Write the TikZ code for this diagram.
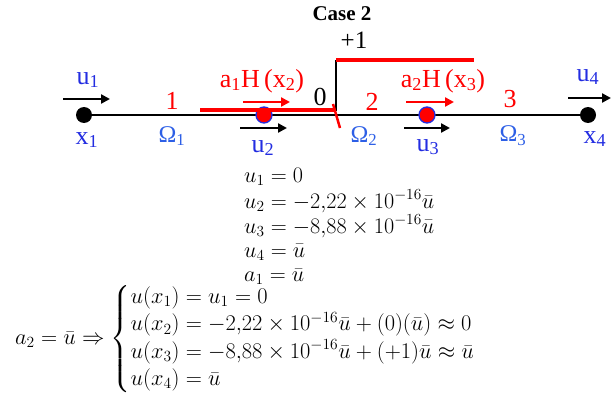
\documentclass[tikz,border=0pt]{standalone}
\usepackage{amsmath}
\usepackage{fontspec}
\setmainfont{Liberation Serif}
\usetikzlibrary{arrows.meta}
\definecolor{lblue}{RGB}{35,45,225}
\definecolor{oblue}{RGB}{45,95,230}
\definecolor{lred}{RGB}{255,0,0}
\tikzset{
  lbl/.style={inner sep=0pt, font=\fontsize{26}{30}\selectfont},
  bluelbl/.style={lbl, text=lblue},
  omegalbl/.style={lbl, text=oblue, font=\fontsize{24}{28}\selectfont},
  redlbl/.style={lbl, text=lred},
  blackdot/.style={circle, fill=black, inner sep=0pt, minimum size=16pt},
  reddot/.style={circle, fill=lred, draw=lblue, line width=1.3pt, inner sep=0pt, minimum size=16pt},
  varrow/.style={line width=2.6pt, -{Triangle[length=9pt,width=9pt]}},
  eqn/.style={inner sep=0pt, anchor=base west, font=\fontsize{20.74}{25}\selectfont},
}
\newcommand{\eqsc}[1]{\scalebox{1.07}{#1}}
\begin{document}
\begin{tikzpicture}[x=1pt,y=-1pt]
\useasboundingbox (0,0) rectangle (611,396);
% title
\node[inner sep=0pt, font=\fontsize{21}{24}\selectfont\bfseries] (title) at (342,14) {Case 2};
\node[inner sep=0pt, font=\fontsize{25}{29}\selectfont] (plus) at (354,40) {+1};
% nodes on the bar
\node[blackdot] (x1) at (84,115) {};
\node[blackdot] (x4) at (588,115) {};
\draw[line width=2.8pt] (x1) -- (x4);
\node[reddot] (n2) at (264,115) {};
\node[reddot] (n3) at (427,115) {};
% step function
\coordinate (s0) at (200,110);
\coordinate (s1) at (334,110);
\coordinate (j0) at (336,111);
\coordinate (j1) at (336,60);
\coordinate (t1) at (474,60);
\coordinate (k0) at (333,104);
\coordinate (k1) at (340,128);
\draw[line width=1.5pt] (j0) -- (j1);
\draw[lred, line width=4pt] (s0) -- (s1);
\draw[lred, line width=4pt] (j1) -- (t1);
\draw[lred, line width=2.5pt] (k0) -- (k1);
% arrows
\coordinate (a1s) at (63,99);  \coordinate (a1e) at (110,99);
\coordinate (a4s) at (568,98); \coordinate (a4e) at (611,98);
\coordinate (a2s) at (240,128); \coordinate (a2e) at (287,128);
\coordinate (a3s) at (404,128); \coordinate (a3e) at (450,128);
\coordinate (r2s) at (243,102); \coordinate (r2e) at (290,102);
\coordinate (r3s) at (406,102); \coordinate (r3e) at (454,102);
\draw[varrow] (a1s) -- (a1e);
\draw[varrow] (a4s) -- (a4e);
\draw[varrow] (a2s) -- (a2e);
\draw[varrow] (a3s) -- (a3e);
\draw[varrow, lred] (r2s) -- (r2e);
\draw[varrow, lred] (r3s) -- (r3e);
% labels
\node[bluelbl] (lu1) at (88,80) {u\textsubscript{1}};
\node[bluelbl] (lu4) at (588,77) {u\textsubscript{4}};
\node[bluelbl] (lu2) at (263,148) {u\textsubscript{2}};
\node[bluelbl] (lu3) at (428,147) {u\textsubscript{3}};
\node[bluelbl] (lx1) at (87,140) {x\textsubscript{1}};
\node[bluelbl] (lx4) at (595,139) {x\textsubscript{4}};
\node[omegalbl] (o1) at (172,136) {Ω\textsubscript{1}};
\node[omegalbl] (o2) at (364,136) {Ω\textsubscript{2}};
\node[omegalbl] (o3) at (513,136) {Ω\textsubscript{3}};
\node[redlbl] (h1) at (262,81) {a\textsubscript{1}H\,(x\textsubscript{2})};
\node[redlbl] (h2) at (443,81) {a\textsubscript{2}H\,(x\textsubscript{3})};
\node[redlbl] (d1) at (172,101) {1};
\node[redlbl] (d2) at (372,102) {2};
\node[redlbl] (d3) at (510,99) {3};
\node[lbl] (d0) at (320,97) {0};
% equations
\node[eqn] (e1) at (244,182) {\eqsc{$u_1 = 0$}};
\node[eqn] (e2) at (244,208) {\eqsc{$u_2 = -2{,}22\times 10^{-16}\bar{u}$}};
\node[eqn] (e3) at (244,233) {\eqsc{$u_3 = -8{,}88\times 10^{-16}\bar{u}$}};
\node[eqn] (e4) at (244,257) {\eqsc{$u_4 = \bar{u}$}};
\node[eqn] (e5) at (244,281) {\eqsc{$a_1 = \bar{u}$}};
\node[inner sep=0pt, anchor=west, font=\fontsize{20.74}{21}\selectfont] (cases) at (15,339) {\scalebox{1.08}{$a_2 = \bar{u} \Rightarrow \begin{cases}
u(x_1) = u_1 = 0\\
u(x_2) = -2{,}22\times 10^{-16}\bar{u} + (0)(\bar{u}) \approx 0\\
u(x_3) = -8{,}88\times 10^{-16}\bar{u} + (+1)\bar{u} \approx \bar{u}\\
u(x_4) = \bar{u}
\end{cases}$}};
\end{tikzpicture}
\end{document}
